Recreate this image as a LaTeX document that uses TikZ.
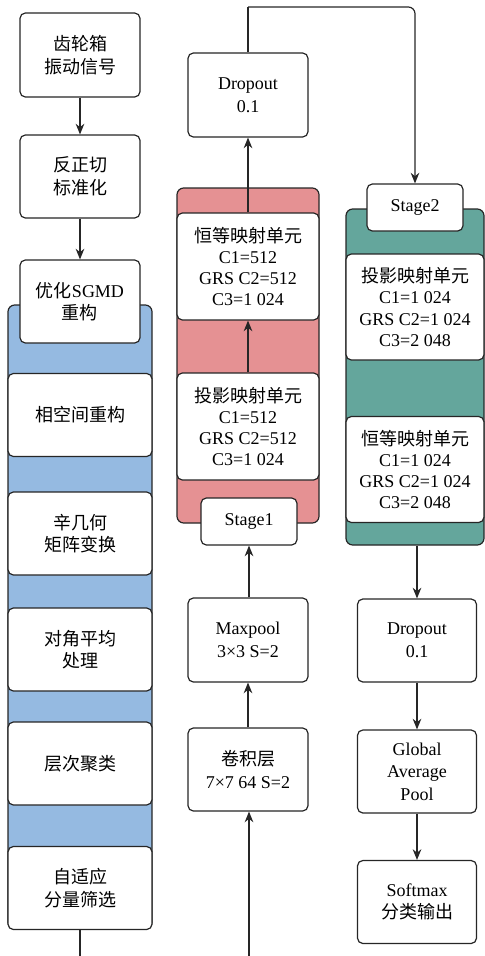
\documentclass[tikz,border=0pt]{standalone}
\usepackage{fontspec}
\setmainfont{Liberation Serif}
\newfontfamily\cjk{Noto Sans CJK SC}
\usetikzlibrary{arrows.meta}
\definecolor{pblue}{RGB}{149,186,225}
\definecolor{pred}{RGB}{229,145,147}
\definecolor{pteal}{RGB}{100,166,156}
\tikzset{
  box/.style={draw=black!85, line width=0.9pt, fill=white, rounded corners=4pt, align=center, inner sep=0pt,
    font=\fontsize{13.5}{17}\selectfont},
  tallbox/.style={box, font=\fontsize{13.5}{15.8}\selectfont},
  panel/.style={draw=black!85, line width=0.9pt, rounded corners=5pt, inner sep=0pt},
  conn/.style={draw=black!85, line width=0.9pt},
  arr/.style={conn, -{Stealth[length=8pt,width=6.5pt]}}
}
\begin{document}
\begin{tikzpicture}[x=0.75pt,y=-0.75pt]
\useasboundingbox (0,0) rectangle (485,956);
% panels
\node[panel, fill=pblue, minimum width=108pt, minimum height=468pt] (bluepanel) at (80,617) {};
\node[panel, fill=pred, minimum width=106.5pt, minimum height=251.25pt] (redpanel) at (248,355.5) {};
\node[panel, fill=pteal, minimum width=103.5pt, minimum height=252pt] (tealpanel) at (415,377) {};
% left column
\node[box, minimum width=90pt, minimum height=63pt] (b1) at (80,55) {{\cjk 齿轮箱}\\{\cjk 振动信号}};
\node[box, minimum width=90pt, minimum height=62.25pt] (b2) at (80,176.5) {{\cjk 反正切}\\{\cjk 标准化}};
\node[box, minimum width=90pt, minimum height=62.25pt] (b3) at (80,301.5) {{\cjk 优化}SGMD\\{\cjk 重构}};
\node[box, minimum width=108pt, minimum height=62.25pt] (b4) at (80,415) {{\cjk 相空间重构}};
\node[box, minimum width=108pt, minimum height=62.25pt] (b5) at (80,533.5) {{\cjk 辛几何}\\{\cjk 矩阵变换}};
\node[box, minimum width=108pt, minimum height=62.25pt] (b6) at (80,649.5) {{\cjk 对角平均}\\{\cjk 处理}};
\node[box, minimum width=108pt, minimum height=62.25pt] (b7) at (80,763.5) {{\cjk 层次聚类}};
\node[box, minimum width=108pt, minimum height=62.25pt] (b8) at (80,888) {{\cjk 自适应}\\{\cjk 分量筛选}};
% middle column
\node[box, minimum width=90pt, minimum height=63pt] (drop1) at (248,95) {Dropout\\0.1};
\node[tallbox, minimum width=106.5pt, minimum height=80.25pt] (id1) at (248,266.5) {{\cjk 恒等映射单元}\\C1=512\\GRS C2=512\\C3=1 024};
\node[tallbox, minimum width=106.5pt, minimum height=80.25pt] (pr1) at (248,426.5) {{\cjk 投影映射单元}\\C1=512\\GRS C2=512\\C3=1 024};
\node[box, minimum width=72pt, minimum height=35.25pt] (st1) at (249,521.5) {Stage1};
\node[box, minimum width=90pt, minimum height=63pt] (maxp) at (248,640) {Maxpool\\3×3 S=2};
\node[box, minimum width=90pt, minimum height=62.25pt] (conv) at (248,769.5) {{\cjk 卷积层}\\7×7 64 S=2};
% right column
\node[box, minimum width=72pt, minimum height=35.25pt] (st2) at (415,207.5) {Stage2};
\node[tallbox, minimum width=103.5pt, minimum height=79.5pt] (pr2) at (415,307) {{\cjk 投影映射单元}\\C1=1 024\\GRS C2=1 024\\C3=2 048};
\node[tallbox, minimum width=103.5pt, minimum height=79.5pt] (id2) at (415,469.5) {{\cjk 恒等映射单元}\\C1=1 024\\GRS C2=1 024\\C3=2 048};
\node[box, minimum width=89.25pt, minimum height=62.25pt] (drop2) at (417,640.5) {Dropout\\0.1};
\node[box, minimum width=89.25pt, minimum height=62.25pt] (gap) at (417,771.5) {Global\\Average\\Pool};
\node[box, minimum width=89.25pt, minimum height=62.25pt] (soft) at (417,902) {Softmax\\{\cjk 分类输出}};
% coordinates
\coordinate (botL) at (80,956);
\coordinate (botM) at (249,956);
\coordinate (topL) at (248,7);
\coordinate (topR) at (415,7);
% connectors
\draw[arr] (b1) -- (b2);
\draw[arr] (b2) -- (b3);
\draw[conn] (b8.south) -- (botL);
\draw[arr] (botM) -- (botM |- conv.south);
\draw[arr] (conv) -- (maxp);
\draw[arr] (maxp.north -| st1) -- (st1.south);
\draw[arr] (pr1) -- (id1);
\draw[arr] (id1) -- (drop1);
\draw[conn] (drop1.north) -- (topL);
\draw[arr, rounded corners=5pt] (topL) -- (topR) -- (st2.north);
\draw[arr] (tealpanel.south -| drop2) -- (drop2.north);
\draw[arr] (drop2) -- (gap);
\draw[arr] (gap) -- (soft);
\end{tikzpicture}
\end{document}
